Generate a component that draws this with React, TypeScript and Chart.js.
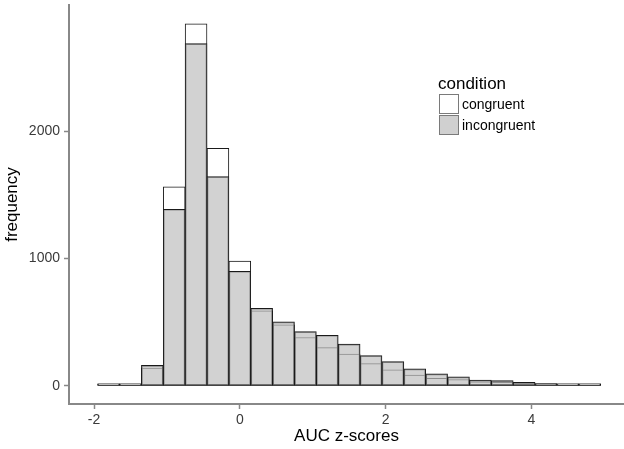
import React, { useEffect, useRef } from "react";
import { Chart, registerables } from "chart.js";

Chart.register(...registerables);

const binCenters = [-1.8, -1.5, -1.2, -0.9, -0.6, -0.3, 0, 0.3, 0.6, 0.9, 1.2, 1.5, 1.8, 2.1, 2.4, 2.7, 3.0, 3.3, 3.6, 3.9, 4.2, 4.5, 4.8];
const congruent = [2, 6, 141, 1563, 2844, 1867, 980, 589, 479, 380, 301, 251, 175, 126, 86, 60, 50, 33, 29, 20, 12, 10, 3];
const incongruent = [1, 9, 162, 1388, 2689, 1644, 901, 610, 503, 427, 398, 328, 238, 191, 134, 95, 71, 46, 42, 28, 18, 15, 5];
const xTicks = [-2, 0, 2, 4];
const yTicks = [0, 1000, 2000];
const legendTitle = "condition";
const seriesNames = ["congruent", "incongruent"];

const FONT = '"Liberation Sans", Arial, Helvetica, sans-serif';

export default function App() {
  const ref = useRef<HTMLCanvasElement | null>(null);

  useEffect(() => {
    if (!ref.current) return;
    const chart = new Chart(ref.current, {
      type: "bar",
      data: {
        datasets: [
          {
            label: seriesNames[1],
            data: binCenters.map((x, i) => ({ x, y: incongruent[i] })),
            backgroundColor: "rgba(191,191,191,0.7)",
            borderColor: "#1a1a1a",
            borderWidth: 1,
            borderSkipped: false,
            minBarLength: 2,
            grouped: false,
            order: 0,
            barPercentage: 1,
            categoryPercentage: 1,
          },
          {
            label: seriesNames[0],
            data: binCenters.map((x, i) => ({ x, y: congruent[i] })),
            backgroundColor: "#ffffff",
            borderColor: "#1a1a1a",
            borderWidth: 1,
            borderSkipped: false,
            minBarLength: 2,
            grouped: false,
            order: 1,
            barPercentage: 1,
            categoryPercentage: 1,
          },
        ],
      },
      options: {
        responsive: false,
        animation: false,
        devicePixelRatio: 1,
        layout: { padding: { left: 0, right: 0, top: 5, bottom: 0 } },
        plugins: { legend: { display: false }, tooltip: { enabled: false } },
        scales: {
          x: {
            type: "linear",
            min: -2.343,
            max: 5.27,
            offset: false,
            afterBuildTicks: (s: any) => {
              s.ticks = xTicks.map((v) => ({ value: v }));
            },
            afterFit: (s: any) => {
              s.height = 45;
              s.paddingLeft = 0;
              s.paddingRight = 0;
            },
            grid: {
              display: true,
              offset: false,
              drawOnChartArea: false,
              drawTicks: true,
              tickLength: 5,
              tickWidth: 1.5,
              color: "#888",
            },
            border: { display: true, color: "#888", width: 2 },
            ticks: {
              padding: 3,
              color: "#3a3a3a",
              font: { family: FONT, size: 14 },
              maxRotation: 0,
              autoSkip: false,
              callback: (v: any) => String(v),
            },
            title: {
              display: true,
              text: "AUC z-scores",
              color: "#000",
              font: { family: FONT, size: 17 },
              padding: { top: 0, bottom: 2 },
            },
          },
          y: {
            type: "linear",
            min: -142,
            max: 2992,
            afterBuildTicks: (s: any) => {
              s.ticks = yTicks.map((v) => ({ value: v }));
            },
            afterFit: (s: any) => {
              s.width = 69;
              s.paddingTop = 0;
              s.paddingBottom = 0;
            },
            grid: {
              display: true,
              drawOnChartArea: false,
              drawTicks: true,
              tickLength: 5,
              tickWidth: 1.5,
              color: "#888",
            },
            border: { display: true, color: "#888", width: 2 },
            ticks: {
              padding: 4,
              color: "#3a3a3a",
              font: { family: FONT, size: 14 },
              callback: (v: any) => String(v),
            },
            title: {
              display: true,
              text: "frequency",
              color: "#000",
              font: { family: FONT, size: 17 },
              padding: { top: 2, bottom: 0 },
            },
          },
        },
      } as any,
    });
    return () => chart.destroy();
  }, []);

  const keyStyle = (bg: string, top: number): React.CSSProperties => ({
    position: "absolute",
    left: 439,
    top,
    width: 18,
    height: 18,
    background: bg,
    border: "1.5px solid #7a7a7a",
  });
  const labelStyle = (top: number): React.CSSProperties => ({
    position: "absolute",
    left: 462,
    top,
    fontFamily: FONT,
    fontSize: 14,
    lineHeight: "16px",
    color: "#000",
    whiteSpace: "nowrap",
  });

  return (
    <div style={{ position: "absolute", left: 0, top: 0, width: 624, height: 449, background: "#fff" }}>
      <canvas ref={ref} width={624} height={449} style={{ display: "block" }} />
      <div
        style={{
          position: "absolute",
          left: 438,
          top: 74,
          fontFamily: FONT,
          fontSize: 17,
          lineHeight: "20px",
          color: "#000",
          whiteSpace: "nowrap",
        }}
      >
        {legendTitle}
      </div>
      <div style={keyStyle("#ffffff", 94)} />
      <div style={keyStyle("#d0d0d0", 115)} />
      <div style={labelStyle(96)}>{seriesNames[0]}</div>
      <div style={labelStyle(117)}>{seriesNames[1]}</div>
    </div>
  );
}
